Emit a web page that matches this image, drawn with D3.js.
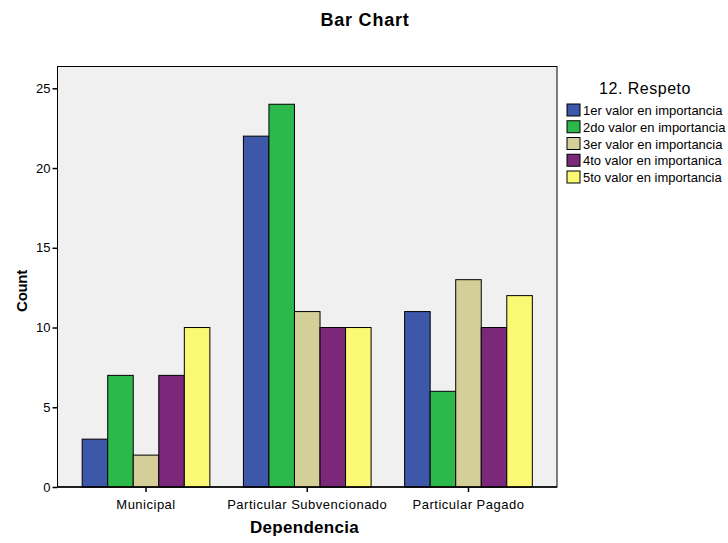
<!DOCTYPE html>
<html><head><meta charset="utf-8">
<script src="https://cdn.jsdelivr.net/npm/d3@7"></script>
<style>body{margin:0;background:#fff}svg{font-family:"Liberation Sans",Arial,sans-serif}</style>
</head><body><svg id="c" width="728" height="543"></svg>
<script>
const categories = ["Municipal", "Particular Subvencionado", "Particular Pagado"];
const seriesNames = ["1er valor en importancia", "2do valor en importancia", "3er valor en importancia", "4to valor en importanica", "5to valor en importancia"];
const s1 = [3, 22, 11];
const s2 = [7, 24, 6];
const s3 = [2, 11, 13];
const s4 = [7, 10, 10];
const s5 = [10, 10, 12];
const yTicks = [0, 5, 10, 15, 20, 25];
const colors = ["#3d57a9", "#2db84b", "#d4cf99", "#7b287b", "#fbf876"];
const series = [s1, s2, s3, s4, s5];

const svg = d3.select("#c");
const L = 57.5, R = 557, T = 66.5, B = 487;
const x = d3.scaleBand().domain(categories).range([L, R]).paddingInner(0.208).paddingOuter(0.153);
const xs = d3.scaleBand().domain(d3.range(5)).range([0, x.bandwidth()]);
const y = d3.scaleLinear().domain([0, 25]).range([B, B - 398.7]);

svg.append("rect").attr("x", L).attr("y", T).attr("width", R - L).attr("height", B - T)
  .attr("fill", "#f0f0f0").attr("stroke", "#000").attr("stroke-width", 1);

categories.forEach((c, i) => {
  series.forEach((s, j) => {
    svg.append("rect").attr("x", x(c) + xs(j)).attr("y", y(s[i]))
      .attr("width", xs.bandwidth()).attr("height", y(0) - y(s[i]))
      .attr("fill", colors[j]).attr("stroke", "#000").attr("stroke-width", 1);
  });
});

const ya = d3.axisLeft(y).tickValues(yTicks).tickSize(5).tickPadding(2);
const gy = svg.append("g").attr("transform", `translate(${L},0)`).call(ya);
gy.select(".domain").remove();
gy.selectAll("text").attr("font-size", 13).attr("fill", "#000").attr("font-family", "Liberation Sans, Arial, sans-serif");
gy.selectAll("line").attr("stroke", "#000").attr("stroke-width", 1.5);

const xa = d3.axisBottom(x).tickSize(5).tickPadding(7.8);
const gx = svg.append("g").attr("transform", `translate(0,${B})`).call(xa);
gx.select(".domain").remove();
gx.selectAll("text").attr("font-size", 13).attr("letter-spacing", 0.5).attr("fill", "#000").attr("font-family", "Liberation Sans, Arial, sans-serif");
gx.selectAll("line").attr("stroke", "#000").attr("stroke-width", 1.5);
svg.append("line").attr("x1", L).attr("x2", R).attr("y1", B).attr("y2", B).attr("stroke", "#000").attr("stroke-width", 1.5);

svg.append("text").attr("x", 365).attr("y", 26).attr("text-anchor", "middle")
  .attr("font-size", 18).attr("letter-spacing", 0.8).attr("font-weight", "bold").text("Bar Chart");
svg.append("text").attr("transform", "translate(27,291) rotate(-90)").attr("text-anchor", "middle")
  .attr("font-size", 15).attr("letter-spacing", -0.3).attr("font-weight", "bold").text("Count");
svg.append("text").attr("x", 304.5).attr("y", 533).attr("text-anchor", "middle")
  .attr("font-size", 17).attr("letter-spacing", 0.3).attr("font-weight", "bold").text("Dependencia");

svg.append("text").attr("x", 645).attr("y", 94).attr("text-anchor", "middle")
  .attr("font-size", 16).attr("letter-spacing", 0.5).text("12. Respeto");
seriesNames.forEach((n, j) => {
  const yy = 104 + j * 16.75;
  svg.append("rect").attr("x", 567).attr("y", yy).attr("width", 13).attr("height", 12)
    .attr("fill", colors[j]).attr("stroke", "#000").attr("stroke-width", 1);
  svg.append("text").attr("x", 583).attr("y", yy + 11).attr("font-size", 13).text(n);
});
</script></body></html>
